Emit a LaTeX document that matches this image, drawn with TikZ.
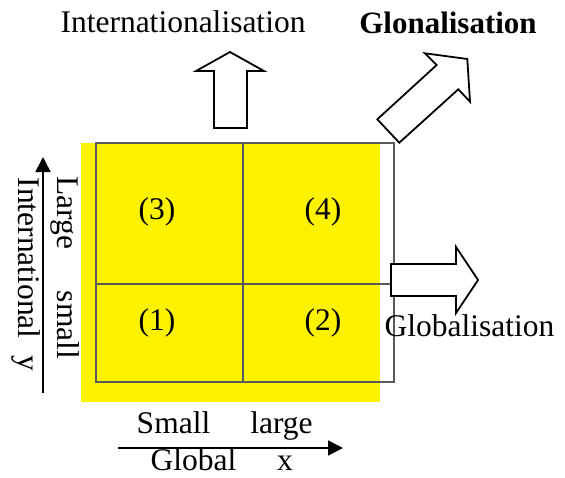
\documentclass[tikz,border=0pt]{standalone}
\usepackage{fontspec}
\setmainfont{Liberation Serif}
\usetikzlibrary{arrows.meta}
\tikzset{
  lbl/.style={font=\fontsize{31.5}{36}\selectfont, inner sep=0pt, anchor=base},
  cell/.style={font=\fontsize{31.5}{36}\selectfont, inner sep=0pt, anchor=center},
  bigarrow/.style={draw=black, fill=white, line width=1.8pt, line join=miter},
  axis/.style={line width=1.6pt, -{Triangle[length=15pt,width=15pt]}},
  gridline/.style={draw=black!65, line width=1.1pt}
}
\begin{document}
\begin{tikzpicture}[x=1pt,y=-1pt]
\useasboundingbox (0,0) rectangle (565,477);
% yellow background
\fill[yellow] (81,143) rectangle (380,402);
% grid
\draw[gridline] (96,143) rectangle (394,382);
\draw[gridline] (243,143) -- (243,382);
\draw[gridline] (96,284) -- (394,284);
% cell labels
\node[cell] (c3) at (157,212) {(3)};
\node[cell] (c4) at (323,212) {(4)};
\node[cell] (c1) at (157,323) {(1)};
\node[cell] (c2) at (323,323) {(2)};
% big arrows
\draw[bigarrow] (214,128) -- (214,71) -- (196,71) -- (230,52) -- (264,71) -- (247,71) -- (247,128) -- cycle;
\draw[bigarrow] (436.7,65) -- (425,53.3) -- (467.3,59) -- (470,101.7) -- (458.3,89.3) -- (399.3,142.7) -- (377.3,119.3) -- cycle;
\draw[bigarrow] (391,264) -- (456,264) -- (456,247) -- (478,280) -- (456,313) -- (456,296) -- (391,296) -- cycle;
% top labels
\node[lbl] (intl) at (183,32) {Internationalisation};
\node[lbl, font=\fontsize{31}{36}\selectfont\bfseries] (glon) at (448,33) {Glonalisation};
\node[lbl] (glob) at (469.5,336) {Globalisation};
% left axis
\coordinate (ya) at (43,393);
\coordinate (yb) at (43,157);
\draw[axis] (ya) -- (yb);
\node[lbl, rotate=-90] (intv) at (18,258) {International};
\node[lbl, rotate=-90] (yv) at (18,363.5) {y};
\node[lbl, rotate=-90] (large) at (57,213) {Large};
\node[lbl, rotate=-90] (small) at (57,325) {small};
% bottom axis
\coordinate (xa) at (118,448);
\coordinate (xb) at (343,448);
\draw[axis] (xa) -- (xb);
\node[lbl] (smallx) at (173.5,433) {Small};
\node[lbl] (largex) at (281.5,433) {large};
\node[lbl] (globx) at (193.5,470) {Global};
\node[lbl] (xx) at (285,470) {x};
\end{tikzpicture}
\end{document}
